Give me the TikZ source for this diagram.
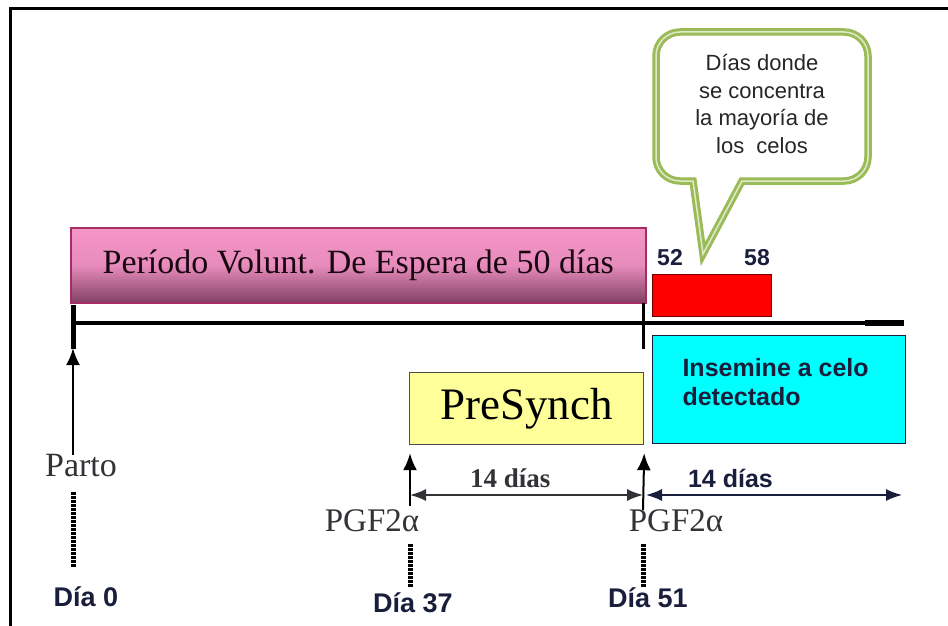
\documentclass[tikz,border=0pt]{standalone}
\usepackage{fontspec}
\setmainfont{Liberation Serif}
\setsansfont{Liberation Sans}
\usetikzlibrary{arrows.meta}
\definecolor{rosa}{RGB}{245,150,200}
\definecolor{malva}{RGB}{130,65,100}
\definecolor{rosaborde}{RGB}{165,45,100}
\definecolor{verde}{RGB}{155,187,89}
\definecolor{verdeclaro}{RGB}{222,234,200}
\definecolor{amarillo}{RGB}{255,255,153}
\definecolor{celeste}{RGB}{0,255,255}
\definecolor{tinta}{RGB}{25,30,60}
\definecolor{gris}{RGB}{50,50,55}
\newcommand{\fs}[1]{\fontsize{#1}{#1}\selectfont}

\begin{document}
\begin{tikzpicture}[x=1pt, y=1pt,
    flecha/.style={-{Latex[length=17pt,width=14pt]}},
    doble/.style={{Latex[length=16pt,width=12pt]}-{Latex[length=16pt,width=12pt]}},
    caja/.style={draw, inner sep=0pt, anchor=north west},
    dia/.style={font=\sffamily\bfseries\fs{27}, text=tinta},
    puntos/.style={line width=5pt, dash pattern=on 3pt off 1pt},
    serif/.style={font=\fs{33}, text=gris}]
\useasboundingbox (0,0) rectangle (948,-626);
\draw[line width=3pt] (10,-626)--(10,-9)--(948,-9);
% periodo voluntario de espera
\node[caja, rosaborde, line width=1.5pt, top color=rosa, bottom color=malva,
      middle color=rosa!88!malva,
      minimum width=575pt, minimum height=75pt, text=black!85!rosaborde,
      font=\fs{34}] (pve) at (70,-227) {Período Volunt. De Espera de 50 días};
% linea de tiempo
\coordinate (t0) at (73,-323);
\coordinate (t51) at (643,-323);
\coordinate (tfin) at (904,-323);
\draw[line width=4.5pt] (t0)--(tfin);
\draw[line width=6pt] (865,-323)--(tfin);
\draw[line width=5pt] (73,-305)--(73,-349);
\draw[line width=3pt] (643,-303)--(643,-349);
% celos
\node[caja, fill=red, draw=red!45!black, line width=1pt,
      minimum width=119pt, minimum height=42pt] (celo) at (652,-274) {};
\node[font=\sffamily\bfseries\fs{23}, text=tinta] (n52) at (670,-258) {52};
\node[font=\sffamily\bfseries\fs{23}, text=tinta] (n58) at (757,-258) {58};
\draw[verde, line width=3pt, double=verdeclaro, double distance=1.5pt, fill=white]
   (703,-254)--(693,-181)[rounded corners=24pt]--(656,-181)--(656,-32)
   --(868,-32)--(868,-181)[sharp corners]--(742,-181)--cycle;
\node[font=\sffamily\fs{22}, align=center, text=black!85,
      execute at begin node=\setlength{\baselineskip}{27.5pt}] (burbuja) at (762,-104)
   {Días donde\\se concentra\\la mayoría de\\los\ \ celos};
% cajas
\node[caja, fill=celeste, draw=tinta, line width=1.2pt,
      minimum width=253pt, minimum height=108pt] (ins) at (652,-335) {};
\node[anchor=north west, align=left, font=\sffamily\bfseries\fs{25}, text=tinta,
      execute at begin node=\setlength{\baselineskip}{29pt}] (instxt)
      at ([xshift=27pt,yshift=-20pt]ins.north west) {Insemine a celo\\detectado};
\node[caja, fill=amarillo, draw=black!70, line width=1.2pt,
      minimum width=234pt, minimum height=72pt, font=\fs{45}] (pre) at (409,-372) {PreSynch};
% parto
\node[serif, font=\fs{34}] (parto) at (81,-466) {Parto};
\draw[flecha, line width=2.5pt] (parto.north)++(-8,-4) coordinate (pb) (pb)--(73,-348);
\draw[puntos] (73,-492)--(73,-567);
\node[dia] (d0) at (86,-597) {Día 0};
% PGF2a
\coordinate (p37) at (410,-506);
\coordinate (p51) at (643,-510);
\draw[flecha, line width=2pt] (p37)--([xshift=1pt,yshift=-8pt]pre.south west);
\draw[flecha, line width=2pt] (p51)--([yshift=-8pt]pre.south east);
\coordinate (a37) at (410,-495);
\coordinate (a51) at (643,-495);
\coordinate (a52) at (646,-495);
\coordinate (afin) at (902,-495);
\draw[doble, line width=1.5pt, gris] (a37)--(a51)
   node[pos=.43, above=3pt, font=\bfseries\fs{27}, text=gris] {14 días};
\draw[doble, line width=1.5pt, tinta] (a52)--(afin)
   node[pos=.33, above=3pt, font=\sffamily\bfseries\fs{25}, text=tinta] {14 días};
\node[serif] (pgf37) at (372,-521) {PGF2α};
\node[serif] (pgf51) at (676,-521) {PGF2α};
\draw[puntos] (410,-544)--(410,-588);
\draw[puntos] (643,-544)--(643,-588);
\node[dia] (d37) at (413,-603) {Día 37};
\node[dia] (d51) at (648,-598) {Día 51};
\end{tikzpicture}
\end{document}
